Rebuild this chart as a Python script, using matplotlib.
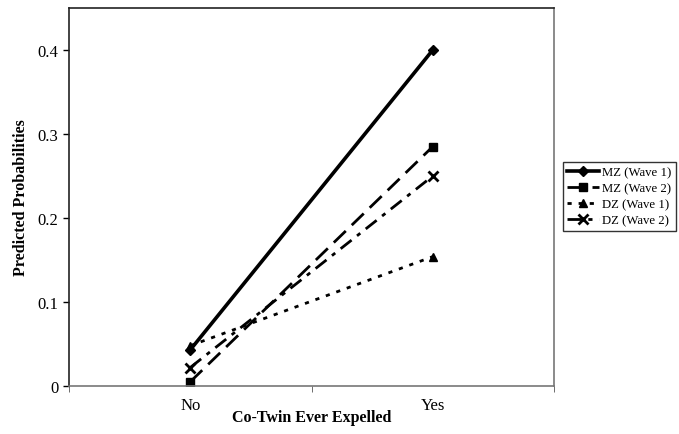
import matplotlib
matplotlib.use('Agg')
import matplotlib.pyplot as plt
import numpy as np

# data
categories = ['No', 'Yes']
mz_wave1 = [0.043, 0.400]
mz_wave2 = [0.005, 0.285]
dz_wave1 = [0.048, 0.154]
dz_wave2 = [0.022, 0.250]
series_names = ['MZ (Wave 1)', 'MZ (Wave 2)', 'DZ (Wave 1)', 'DZ (Wave 2)']
yticks = [0, 0.1, 0.2, 0.3, 0.4]
ytick_labels = ['0', '0.1', '0.2', '0.3', '0.4']

plt.rcParams['font.family'] = ['Liberation Serif', 'DejaVu Serif']

fig = plt.figure(figsize=(6.79, 4.35), dpi=100)
ax = fig.add_axes([69/679, 1-387/435, 485/679, 378/435])

x = np.arange(len(categories))
ax.plot(x, mz_wave1, color='black', lw=2.6, ls='-', marker='D', ms=5, label=series_names[0])
ax.plot(x, mz_wave2, color='black', lw=2.0, ls=(0, (6, 3)), marker='s', ms=6, label=series_names[1])
ax.plot(x, dz_wave1, color='black', lw=2.0, ls=(0, (1.5, 2.5)), marker='^', ms=6, label=series_names[2])
ax.plot(x, dz_wave2, color='black', lw=2.0, ls=(0, (5, 2.5, 1.5, 2.5)), marker='x', ms=7, mew=2, label=series_names[3])

ax.set_xlim(-0.5, 1.5)
ax.set_ylim(0, 0.45)
ax.set_yticks(yticks)
ax.set_yticklabels(ytick_labels, fontsize=12)
ax.set_xticks(x)
ax.set_xticklabels(categories, fontsize=12)
ax.tick_params(axis='x', which='major', length=0, pad=8)
ax.set_xticks([-0.5, 0.5, 1.5], minor=True)
ax.tick_params(axis='x', which='minor', length=4, direction='out', color='#555555')
ax.tick_params(axis='y', length=4, direction='out', width=1)

for side in ['left', 'top']:
    ax.spines[side].set_color('#222222')
for side in ['bottom', 'right']:
    ax.spines[side].set_color('#777777')
for s in ax.spines.values():
    s.set_linewidth(1.2)

ax.set_xlabel('Co-Twin Ever Expelled', fontsize=11.5, fontweight='bold', labelpad=-3)
ax.set_ylabel('Predicted Probabilities', fontsize=11.5, fontweight='bold', labelpad=6)

leg = fig.legend(loc='center left', bbox_to_anchor=(563/679, 1-197.5/435), fontsize=9.2,
                 frameon=True, fancybox=False, edgecolor='black', handlelength=2.5,
                 handletextpad=0.2, borderpad=0.35, labelspacing=0.3, borderaxespad=0)
leg.get_frame().set_linewidth(1.0)

fig.savefig('out.png', dpi=100)
